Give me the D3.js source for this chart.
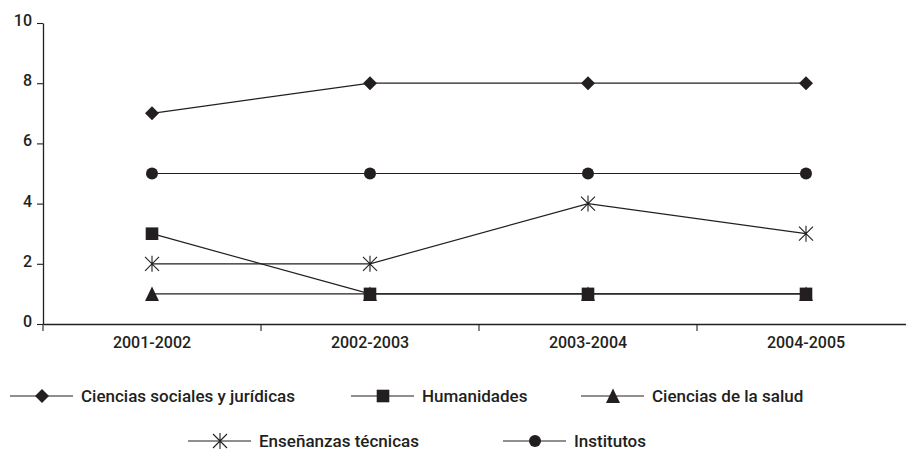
<!DOCTYPE html>
<html>
<head>
<meta charset="utf-8">
<script src="https://cdn.jsdelivr.net/npm/d3@7"></script>
<style>
  body { margin: 0; background: #fff; }
  svg text { font-family: Roboto, "DejaVu Sans", sans-serif; font-weight: 500; fill: #231f20; }
</style>
</head>
<body>
<svg id="chart" width="906" height="451"></svg>
<script>
// data
var categories = ["2001-2002", "2002-2003", "2003-2004", "2004-2005"];
var sociales = [7, 8, 8, 8];
var humanidades = [3, 1, 1, 1];
var salud = [1, 1, 1, 1];
var tecnicas = [2, 2, 4, 3];
var institutos = [5, 5, 5, 5];
var yTicks = [0, 2, 4, 6, 8, 10];

var ink = "#231f20";

// custom marker shapes for d3.symbol
var diamond = { draw: function (c) { c.moveTo(0, -7); c.lineTo(7, 0); c.lineTo(0, 7); c.lineTo(-7, 0); c.closePath(); } };
var square = { draw: function (c) { c.rect(-6.3, -6.3, 12.6, 12.6); } };
var triangle = { draw: function (c) { c.moveTo(0, -7.5); c.lineTo(7, 7); c.lineTo(-7, 7); c.closePath(); } };
var circle = { draw: function (c) { c.moveTo(6, 0); c.arc(0, 0, 6, 0, 2 * Math.PI); } };
var star = { draw: function (c) {
  c.moveTo(-7, -7); c.lineTo(7, 7);
  c.moveTo(-7, 7); c.lineTo(7, -7);
  c.moveTo(0, -8); c.lineTo(0, 8);
} };

// draw order: salud under humanidades where they share a point
var series = [
  { name: "Ciencias sociales y jurídicas", values: sociales, shape: diamond, stroke: false },
  { name: "Ciencias de la salud", values: salud, shape: triangle, stroke: false },
  { name: "Humanidades", values: humanidades, shape: square, stroke: false },
  { name: "Enseñanzas técnicas", values: tecnicas, shape: star, stroke: true },
  { name: "Institutos", values: institutos, shape: circle, stroke: false }
];

var svg = d3.select("#chart");

var x = d3.scaleBand().domain(categories).range([43, 915]).padding(0);
var y = d3.scaleLinear().domain([0, 10]).range([324, 23]);

// y axis
var yAxis = svg.append("g")
    .attr("transform", "translate(43,0)")
    .call(d3.axisLeft(y).tickValues(yTicks).tickSize(6).tickSizeOuter(0).tickPadding(5));
yAxis.selectAll("text").attr("font-size", 16).attr("dy", "0.15em").style("font-family", null);
yAxis.select(".domain").attr("stroke", ink).attr("stroke-width", 1.3);
yAxis.selectAll(".tick line").attr("stroke", ink).attr("stroke-width", 1.1);

// x axis, labels at band centres, ticks on band edges
var xAxis = svg.append("g")
    .attr("transform", "translate(0,324)")
    .call(d3.axisBottom(x).tickSize(0).tickSizeOuter(0).tickPadding(13));
xAxis.selectAll("text").attr("font-size", 16).style("font-family", null);
xAxis.select(".domain").attr("stroke", ink).attr("stroke-width", 1.3);

var edges = categories.map(function (c) { return x(c); }).concat([x(categories[categories.length - 1]) + x.bandwidth()]);
xAxis.selectAll(".edge")
  .data(edges)
  .enter().append("line")
    .attr("class", "edge")
    .attr("x1", function (d) { return d; })
    .attr("x2", function (d) { return d; })
    .attr("y1", 0)
    .attr("y2", 7)
    .attr("stroke", ink)
    .attr("stroke-width", 1.1);

var cx = function (i) { return x(categories[i]) + x.bandwidth() / 2; };

var line = d3.line()
    .x(function (d, i) { return cx(i); })
    .y(function (d) { return y(d); });

var g = svg.append("g");

g.selectAll(".series-line")
  .data(series)
  .enter().append("path")
    .attr("class", "series-line")
    .attr("d", function (s) { return line(s.values); })
    .attr("fill", "none")
    .attr("stroke", ink)
    .attr("stroke-width", 1.2);

series.forEach(function (s) {
  g.selectAll(null)
    .data(s.values)
    .enter().append("path")
      .attr("d", d3.symbol().type(s.shape))
      .attr("transform", function (d, i) { return "translate(" + cx(i) + "," + y(d) + ")"; })
      .attr("fill", s.stroke ? "none" : ink)
      .attr("stroke", s.stroke ? ink : "none")
      .attr("stroke-width", 1.1);
});

// legend
var legendItems = [
  { s: series[0], x: 10, y: 396 },
  { s: series[2], x: 351, y: 396 },
  { s: series[1], x: 581, y: 396 },
  { s: series[3], x: 188, y: 441 },
  { s: series[4], x: 503, y: 441 }
];

var leg = svg.append("g").selectAll("g")
  .data(legendItems)
  .enter().append("g")
    .attr("transform", function (d) { return "translate(" + d.x + "," + d.y + ")"; });

leg.append("line")
    .attr("x1", 0).attr("x2", 63)
    .attr("y1", 0).attr("y2", 0)
    .attr("stroke", ink)
    .attr("stroke-width", 1.2);

leg.append("path")
    .attr("d", function (d) { return d3.symbol().type(d.s.shape)(); })
    .attr("transform", "translate(32,0)")
    .attr("fill", function (d) { return d.s.stroke ? "none" : ink; })
    .attr("stroke", function (d) { return d.s.stroke ? ink : "none"; })
    .attr("stroke-width", 1.1);

leg.append("text")
    .attr("x", 71)
    .attr("y", 5.5)
    .attr("font-size", 17)
    .text(function (d) { return d.s.name; });
</script>
</body>
</html>
